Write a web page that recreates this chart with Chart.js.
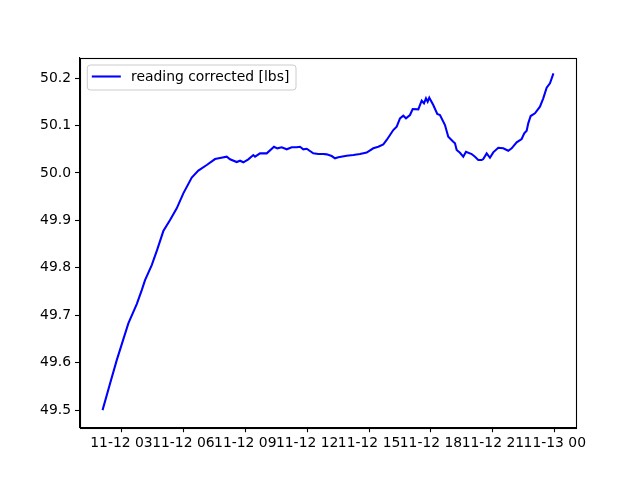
<!DOCTYPE html>
<html>
<head>
<meta charset="utf-8">
<script src="https://cdn.jsdelivr.net/npm/chart.js@4.4.1/dist/chart.umd.min.js"></script>
<style>
  html, body { margin: 0; padding: 0; background: #ffffff; }
  #wrap { width: 640px; height: 480px; position: relative; }
</style>
</head>
<body>
<div id="wrap"><canvas id="c" width="640" height="480"></canvas></div>
<script>
// Hours since 11-12 00:00
const hours = [
  2.084, 2.448, 2.772, 3.334, 3.741, 3.984, 4.143, 4.468, 4.725, 5.030,
  5.355, 5.679, 5.999, 6.406, 6.726, 7.133, 7.535, 7.777, 8.102, 8.262,
  8.586, 8.746, 8.906, 9.148, 9.390, 9.473, 9.715, 10.040, 10.393, 10.553,
  10.766, 11.009, 11.251, 11.493, 11.653, 11.813, 11.978, 12.298, 12.540, 12.782,
  12.947, 13.189, 13.349, 13.509, 13.916, 14.236, 14.560, 14.885, 15.204, 15.447,
  15.689, 15.854, 16.014, 16.173, 16.338, 16.498, 16.658, 16.789, 16.983, 17.113,
  17.385, 17.549, 17.661, 17.758, 17.840, 17.918, 18.111, 18.305, 18.436, 18.678,
  18.838, 19.080, 19.163, 19.245, 19.405, 19.565, 19.696, 19.972, 20.132, 20.292,
  20.456, 20.534, 20.699, 20.858, 21.018, 21.260, 21.503, 21.745, 21.910, 22.152,
  22.394, 22.520, 22.637, 22.714, 22.831, 23.039, 23.281, 23.441, 23.606, 23.766,
  23.935
];
const reading = [
  49.5000, 49.5563, 49.6054, 49.6828, 49.7235, 49.7530, 49.7741, 49.8057, 49.8373, 49.8774,
  49.9006, 49.9253, 49.9569, 49.9902, 50.0050, 50.0166, 50.0292, 50.0313, 50.0341, 50.0286,
  50.0229, 50.0256, 50.0223, 50.0286, 50.0376, 50.0341, 50.0412, 50.0412, 50.0551, 50.0518,
  50.0539, 50.0497, 50.0539, 50.0539, 50.0551, 50.0497, 50.0509, 50.0412, 50.0397, 50.0397,
  50.0391, 50.0355, 50.0307, 50.0328, 50.0362, 50.0376, 50.0397, 50.0429, 50.0518, 50.0551,
  50.0602, 50.0693, 50.0798, 50.0903, 50.0973, 50.1150, 50.1205, 50.1150, 50.1220, 50.1346,
  50.1340, 50.1521, 50.1467, 50.1572, 50.1500, 50.1585, 50.1431, 50.1241, 50.1220, 50.1009,
  50.0762, 50.0657, 50.0623, 50.0482, 50.0425, 50.0341, 50.0446, 50.0397, 50.0341, 50.0271,
  50.0271, 50.0292, 50.0412, 50.0319, 50.0433, 50.0530, 50.0518, 50.0467, 50.0518, 50.0644,
  50.0714, 50.0834, 50.0889, 50.1045, 50.1199, 50.1256, 50.1395, 50.1572, 50.1795, 50.1888,
  50.2099
];
const xTickHours = [3, 6, 9, 12, 15, 18, 21, 24];
const xTickLabels = ["11-12 03", "11-12 06", "11-12 09", "11-12 12", "11-12 15", "11-12 18", "11-12 21", "11-13 00"];
const yTicks = [49.5, 49.6, 49.7, 49.8, 49.9, 50.0, 50.1, 50.2];
const seriesName = "reading corrected [lbs]";

const FONT = "'DejaVu Sans', sans-serif";
const FS = 13.9;

const points = hours.map((h, i) => ({ x: h, y: reading[i] }));

const frameAndLegend = {
  id: 'frameAndLegend',
  afterDraw(chart) {
    const ctx = chart.ctx;
    const a = chart.chartArea;
    ctx.save();
    // frame
    ctx.strokeStyle = '#000';
    ctx.lineWidth = 1.1;
    ctx.strokeRect(Math.round(a.left) + 0.5, Math.round(a.top) + 0.5,
                   Math.round(a.right - a.left), Math.round(a.bottom - a.top));
    // legend
    const bx = a.left + 7.3, by = a.top + 7.4, bw = 208.7, bh = 25;
    const r = 3;
    ctx.beginPath();
    ctx.moveTo(bx + r, by);
    ctx.lineTo(bx + bw - r, by);
    ctx.quadraticCurveTo(bx + bw, by, bx + bw, by + r);
    ctx.lineTo(bx + bw, by + bh - r);
    ctx.quadraticCurveTo(bx + bw, by + bh, bx + bw - r, by + bh);
    ctx.lineTo(bx + r, by + bh);
    ctx.quadraticCurveTo(bx, by + bh, bx, by + bh - r);
    ctx.lineTo(bx, by + r);
    ctx.quadraticCurveTo(bx, by, bx + r, by);
    ctx.closePath();
    ctx.fillStyle = 'rgba(255,255,255,0.8)';
    ctx.fill();
    ctx.strokeStyle = '#cccccc';
    ctx.lineWidth = 1;
    ctx.stroke();
    ctx.beginPath();
    ctx.moveTo(bx + 4.5, by + 11.5);
    ctx.lineTo(bx + 33.5, by + 11.5);
    ctx.strokeStyle = '#0000ff';
    ctx.lineWidth = 2.08;
    ctx.stroke();
    ctx.fillStyle = '#000';
    ctx.font = FS + 'px ' + FONT;
    ctx.textBaseline = 'middle';
    ctx.textAlign = 'left';
    ctx.fillText(seriesName, bx + 43.7, by + 12);
    ctx.restore();
  }
};

new Chart(document.getElementById('c'), {
  type: 'line',
  data: {
    datasets: [{
      label: seriesName,
      data: points,
      borderColor: '#0000ff',
      borderWidth: 2.08,
      pointRadius: 0,
      tension: 0,
      fill: false
    }]
  },
  options: {
    responsive: false,
    animation: false,
    devicePixelRatio: 1,
    layout: { padding: { left: 0, right: 64, top: 57.6, bottom: 0 } },
    plugins: { legend: { display: false }, tooltip: { enabled: false } },
    scales: {
      x: {
        type: 'linear',
        min: 0.991,
        max: 25.028,
        afterFit(s) { s.height = 52.8; },
        afterBuildTicks(s) { s.ticks = xTickHours.map(v => ({ value: v })); },
        grid: { drawOnChartArea: false, drawTicks: true, tickLength: 5, color: '#000', tickWidth: 1.1 },
        border: { display: true, color: '#000', width: 1.1 },
        ticks: {
          autoSkip: false,
          maxRotation: 0,
          minRotation: 0,
          padding: 3,
          color: '#000',
          font: { family: FONT, size: FS },
          callback(v) { const i = xTickHours.indexOf(v); return i >= 0 ? xTickLabels[i] : ''; }
        }
      },
      y: {
        type: 'linear',
        min: 49.464,
        max: 50.243,
        afterFit(s) { s.width = 80; },
        afterBuildTicks(s) { s.ticks = yTicks.map(v => ({ value: v })); },
        grid: { drawOnChartArea: false, drawTicks: true, tickLength: 5, color: '#000', tickWidth: 1.1 },
        border: { display: true, color: '#000', width: 1.1 },
        ticks: {
          autoSkip: false,
          padding: 4,
          color: '#000',
          font: { family: FONT, size: FS },
          callback(v) { return Number(v).toFixed(1); }
        }
      }
    }
  },
  plugins: [frameAndLegend]
});
</script>
</body>
</html>
